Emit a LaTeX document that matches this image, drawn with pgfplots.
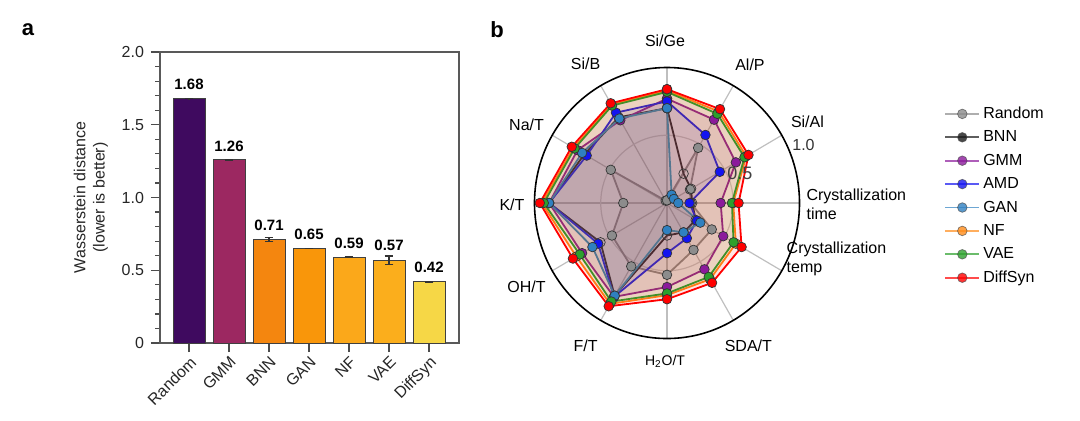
\documentclass[border=0pt]{standalone}
\usepackage{fontspec}
\setmainfont{Liberation Sans}
\usepackage{pgfplots}
\pgfplotsset{compat=1.18}

\definecolor{cRandom}{HTML}{3F0A5F}
\definecolor{cGMM}{HTML}{9C2861}
\definecolor{cBNN}{HTML}{F4860F}
\definecolor{cGAN}{HTML}{F9960A}
\definecolor{cNF}{HTML}{FBA81A}
\definecolor{cVAE}{HTML}{FBAE1C}
\definecolor{cDiff}{HTML}{F6D746}

\definecolor{rRandom}{HTML}{8C8C8C}
\definecolor{rBNN}{HTML}{1A1A1A}
\definecolor{rGMM}{HTML}{8B1A9B}
\definecolor{rAMD}{HTML}{1414F0}
\definecolor{rGAN}{HTML}{2F80C0}
\definecolor{rNF}{HTML}{FF8C1A}
\definecolor{rVAE}{HTML}{2CA02C}
\definecolor{rDiff}{HTML}{FF0000}

\newcommand\fs{\fontsize{8pt}{9.6pt}\selectfont}

\pgfplotsset{
  bar/.style={ybar, bar width=0.8, bar shift=0pt, fill=#1, draw=black!75, line width=0.5pt,
    error bars/.cd, y dir=both, y explicit,
    error bar style={black!80, line width=0.6pt},
    error mark options={rotate=90, mark size=2.2pt, black!80, line width=0.6pt}},
  radar/.style={forget plot, data cs=polar, line width=0.9pt, draw=#1, fill=#1, fill opacity=0.1,
    draw opacity=1, mark=*, mark size=2.4pt,
    mark options={fill=#1, fill opacity=1, draw=black!80, line width=0.35pt}},
  legimg/.style={draw=#1, draw opacity=0.7, line width=0.9pt, mark=*, mark size=2.4pt,
    mark options={fill=#1, fill opacity=0.8, draw=black!70, line width=0.35pt}},
}

\begin{document}
\begin{tikzpicture}
\path[use as bounding box] (0,0) rectangle (540pt,210pt);
\node[font=\bfseries\fontsize{11pt}{13pt}\selectfont] at (14pt,195pt) {a};
\node[font=\bfseries\fontsize{11pt}{13pt}\selectfont] at (248.5pt,195pt) {b};

% panel a: bar chart
\begin{axis}[
  at={(80pt,38.5pt)}, anchor=south west, scale only axis,
  width=149.5pt, height=145.5pt,
  xmin=-0.725, xmax=6.75, ymin=0, ymax=2,
  xtick={0,...,6},
  xticklabels={Random,GMM,BNN,GAN,NF,VAE,DiffSyn},
  ytick={0,0.5,1,1.5,2},
  yticklabels={0,0.5,1.0,1.5,2.0},
  minor y tick num=4,
  tick align=outside, xtick pos=left, ytick pos=left,
  major tick length=4.5pt, minor tick length=2.5pt,
  tick style={black!70, line width=0.6pt},
  axis line style={black!65, line width=0.6pt},
  ticklabel style={font=\fs, text=black!85},
  xticklabel style={rotate=45, anchor=north east, inner sep=1pt},
  ylabel={Wasserstein distance\\(lower is better)},
  ylabel style={font=\fs, align=center, text=black!85, at={(axis description cs:-0.231,0.5)}, anchor=center},
  /pgf/number format/assume math mode=true,
]
\addplot[bar=cRandom] coordinates {(0,1.68) +- (0,0.002)};
\addplot[bar=cGMM] coordinates {(1,1.26) +- (0,0.003)};
\addplot[bar=cBNN] coordinates {(2,0.71) +- (0,0.015)};
\addplot[bar=cGAN] coordinates {(3,0.65) +- (0,0.002)};
\addplot[bar=cNF] coordinates {(4,0.59) +- (0,0.005)};
\addplot[bar=cVAE] coordinates {(5,0.57) +- (0,0.028)};
\addplot[bar=cDiff] coordinates {(6,0.42) +- (0,0.002)};
\node[font=\bfseries\fontsize{7.5pt}{9pt}\selectfont] at (axis cs:0,1.775) {1.68};
\node[font=\bfseries\fontsize{7.5pt}{9pt}\selectfont] at (axis cs:1,1.355) {1.26};
\node[font=\bfseries\fontsize{7.5pt}{9pt}\selectfont] at (axis cs:2,0.81) {0.71};
\node[font=\bfseries\fontsize{7.5pt}{9pt}\selectfont] at (axis cs:3,0.745) {0.65};
\node[font=\bfseries\fontsize{7.5pt}{9pt}\selectfont] at (axis cs:4,0.685) {0.59};
\node[font=\bfseries\fontsize{7.5pt}{9pt}\selectfont] at (axis cs:5,0.668) {0.57};
\node[font=\bfseries\fontsize{7.5pt}{9pt}\selectfont] at (axis cs:6,0.518) {0.42};
\end{axis}

% panel b: radar chart
\begin{axis}[
  at={(333.5pt,108.5pt)}, anchor=center, scale only axis,
  width=132.5pt, height=135.5pt,
  xmin=-1, xmax=1, ymin=-1, ymax=1,
  hide axis, clip=false,
  legend style={draw=none, fill=none, font=\fs, at={(1.545,0.869)}, anchor=north west,
    inner sep=0pt, row sep=1.2pt, cells={anchor=west},
    nodes={inner sep=1.5pt, text height=6pt, text depth=1.5pt}},
]
\pgfplotsinvokeforeach{0,30,...,330}{
  \addplot[forget plot, black!25, line width=0.6pt, data cs=polar] coordinates {(#1,0) (#1,1)};
}
\draw[black!18, line width=0.6pt] (axis cs:0,0) ellipse [x radius=0.5, y radius=0.5];

% angles: Si/Ge 90, Al/P 60, Si/Al 30, Cryst. time 0, Cryst. temp -30, SDA/T -60,
% H2O/T -90, F/T -120, OH/T -150, K/T 180, Na/T 150, Si/B 120
\addplot[radar=rRandom] coordinates {
  (90,0.02) (60,0.47) (30,0.20) (0,0.18) (-30,0.39) (-60,0.40)
  (-90,0.53) (-120,0.54) (-150,0.48) (180,0.33) (150,0.49) (120,0.02) (90,0.02)};
\addplot[radar=rBNN, fill opacity=0.04, mark options={fill=black!15, draw=black!80, line width=0.35pt}] coordinates {
  (90,0.70) (60,0.25) (30,0.21) (0,0.19) (-30,0.25) (-60,0.25)
  (-90,0.24) (-120,0.79) (-150,0.58) (180,0.89) (150,0.72) (120,0.73) (90,0.70)};
\addplot[radar=rGMM] coordinates {
  (90,0.77) (60,0.71) (30,0.60) (0,0.405) (-30,0.49) (-60,0.565)
  (-90,0.62) (-120,0.80) (-150,0.74) (180,0.89) (150,0.78) (120,0.705) (90,0.77)};
\addplot[radar=rAMD] coordinates {
  (90,0.75) (60,0.58) (30,0.46) (0,0.17) (-30,0.26) (-60,0.30)
  (-90,0.37) (-120,0.80) (-150,0.60) (180,0.89) (150,0.70) (120,0.77) (90,0.75)};
\addplot[radar=rGAN] coordinates {
  (90,0.70) (60,0.07) (30,0.06) (0,0.085) (-30,0.29) (-60,0.25)
  (-90,0.20) (-120,0.79) (-150,0.65) (180,0.89) (150,0.74) (120,0.72) (90,0.70)};
\addplot[radar=rNF] coordinates {
  (90,0.83) (60,0.78) (30,0.69) (0,0.50) (-30,0.60) (-60,0.65)
  (-90,0.68) (-120,0.86) (-150,0.79) (180,0.945) (150,0.815) (120,0.84) (90,0.83)};
\addplot[radar=rVAE] coordinates {
  (90,0.82) (60,0.76) (30,0.675) (0,0.49) (-30,0.58) (-60,0.63)
  (-90,0.667) (-120,0.84) (-150,0.76) (180,0.93) (150,0.805) (120,0.83) (90,0.82)};
\addplot[radar=rDiff] coordinates {
  (90,0.84) (60,0.80) (30,0.71) (0,0.54) (-30,0.65) (-60,0.68)
  (-90,0.71) (-120,0.88) (-150,0.82) (180,0.96) (150,0.83) (120,0.85) (90,0.84)};

\draw[black, line width=0.8pt] (axis cs:0,0) ellipse [x radius=1, y radius=1];

\addlegendimage{legimg=rRandom}
\addlegendimage{legimg=rBNN}
\addlegendimage{legimg=rGMM}
\addlegendimage{legimg=rAMD}
\addlegendimage{legimg=rGAN}
\addlegendimage{legimg=rNF}
\addlegendimage{legimg=rVAE}
\addlegendimage{legimg=rDiff}
\legend{Random,BNN,GMM,AMD,GAN,NF,VAE,DiffSyn}

\node[font=\fs] at (axis cs:-0.015,1.20) {Si/Ge};
\node[font=\fs] at (axis cs:0.626,1.02) {Al/P};
\node[font=\fs] at (axis cs:1.06,0.60) {Si/Al};
\node[font=\fs, anchor=west, align=left] at (axis cs:1.00,-0.01) {Crystallization\\time};
\node[font=\fs, anchor=west, align=left] at (axis cs:0.85,-0.41) {Crystallization\\temp};
\node[font=\fs] at (axis cs:0.614,-1.05) {SDA/T};
\node[font=\fontsize{7pt}{8pt}\selectfont] at (axis cs:-0.015,-1.17) {H\textsubscript{2}O/T};
\node[font=\fs] at (axis cs:-0.614,-1.05) {F/T};
\node[font=\fs] at (axis cs:-1.06,-0.62) {OH/T};
\node[font=\fs] at (axis cs:-1.17,-0.015) {K/T};
\node[font=\fs] at (axis cs:-1.06,0.58) {Na/T};
\node[font=\fs] at (axis cs:-0.614,1.03) {Si/B};
\node[font=\fs, text=black!80] at (axis cs:1.03,0.43) {1.0};
\node[font=\fontsize{9pt}{10pt}\selectfont, text=black!75] at (axis cs:0.55,0.22) {0.5};
\end{axis}
\end{tikzpicture}
\end{document}
